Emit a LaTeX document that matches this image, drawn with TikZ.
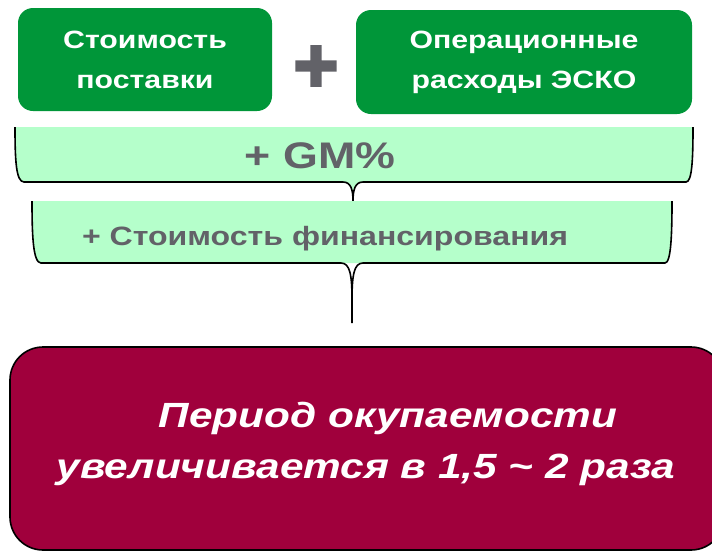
\documentclass[tikz,border=0pt]{standalone}
\usepackage{fontspec}
\setmainfont{Liberation Sans}[FakeStretch=1.21]
\newfontfamily\plusfont{Liberation Sans Bold}[FakeBold=4]
\definecolor{boxgreen}{RGB}{0,150,57}
\definecolor{lightgreen}{RGB}{181,255,203}
\definecolor{crimson}{RGB}{160,0,60}
\definecolor{txtgray}{RGB}{98,98,104}
\tikzset{
  greenbox/.style={fill=boxgreen, rounded corners=15pt, text=white, font=\bfseries\fontsize{25}{40}\selectfont, align=center, inner sep=0pt},
  bracefill/.style={fill=lightgreen, draw=none},
  braceline/.style={draw=black, line width=1.6pt},
  graytext/.style={text=txtgray, font=\bfseries, inner sep=0pt},
  resultbox/.style={fill=crimson, draw=black, line width=1.6pt, rounded corners=33pt, inner sep=0pt},
  resulttext/.style={text=white, font=\bfseries\itshape\fontsize{35}{42}\selectfont, inner sep=0pt}
}
\begin{document}
\begin{tikzpicture}[x=1pt,y=-1pt]
\useasboundingbox (0,0) rectangle (712,552);
% top boxes
\node[greenbox, minimum width=254pt, minimum height=103pt] (cost) at (145,59.5) {Стоимость\\поставки};
\node[greenbox, minimum width=336pt, minimum height=104pt] (opex) at (524,62) {Операционные\\расходы ЭСКО};
\node[text=txtgray, font=\plusfont\fontsize{76}{76}\selectfont, inner sep=0pt] (plus) at (316,69) {+};
% brace 1
\fill[bracefill] (15,127) .. controls (15,160) and (16,182) .. (24,182) -- (343,182)
  .. controls (351,182) and (353,190) .. (353,201)
  .. controls (353,190) and (355,182) .. (363,182) -- (686,182)
  .. controls (692,182) and (693,160) .. (693,127) -- cycle;
\draw[braceline] (15,127) .. controls (15,160) and (16,182) .. (24,182) -- (343,182)
  .. controls (351,182) and (353,190) .. (353,201)
  .. controls (353,190) and (355,182) .. (363,182) -- (686,182)
  .. controls (692,182) and (693,160) .. (693,127);
\node[graytext, font=\bfseries\fontsize{37}{40}\selectfont, anchor=base] (gm) at (320,168) {+ GM\%};
% brace 2
\fill[bracefill] (32,201) .. controls (32,235) and (33,263) .. (41,263) -- (665,263)
  .. controls (671,263) and (672,235) .. (672,201) -- cycle;
\draw[braceline] (32,201) .. controls (32,235) and (33,263) .. (41,263) -- (341,263)
  .. controls (350,263) and (352,275) .. (352,300) -- (352,323);
\draw[braceline] (352,300) .. controls (352,275) and (354,263) .. (363,263) -- (665,263)
  .. controls (671,263) and (672,235) .. (672,201);
\node[graytext, font=\bfseries\fontsize{26.5}{30}\selectfont, anchor=base] (fin) at (325,245) {+ Стоимость финансирования};
% result box
\draw[resultbox] (10,347) rectangle (724,550);
\node[resulttext, anchor=base] (r1) at (388,427) {Период окупаемости};
\node[resulttext, anchor=base] (r2) at (366,478) {увеличивается в 1,5 \textasciitilde{} 2 раза};
\end{tikzpicture}
\end{document}
